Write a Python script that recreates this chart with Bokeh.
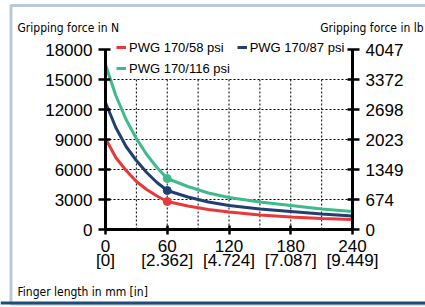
from bokeh.plotting import figure
from bokeh.models import (LinearAxis, FixedTicker, Legend, LegendItem, Label,
                          BoxAnnotation, Span)
from bokeh.embed import file_html
from bokeh.resources import INLINE

# ---- data ----
finger_mm = [0, 10, 20, 30, 40, 50, 60, 80, 100, 120, 150, 180, 210, 240]
force_58 = [9100, 7200, 5900, 4800, 4000, 3350, 2800, 2350, 2000, 1750, 1450, 1250, 1100, 1000]
force_87 = [12700, 10200, 8300, 6900, 5700, 4700, 3900, 3250, 2750, 2400, 2050, 1800, 1550, 1350]
force_116 = [16500, 13400, 11000, 9100, 7500, 6200, 5100, 4300, 3650, 3200, 2750, 2400, 2050, 1800]
marker_mm = [60]
marker_58 = [2800]
marker_87 = [3900]
marker_116 = [5100]

x_ticks = [0, 60, 120, 180, 240]
x_labels_mm = ["0", "60", "120", "180", "240"]
x_labels_in = ["[0]", "[2.362]", "[4.724]", "[7.087]", "[9.449]"]
y_ticks = [0, 3000, 6000, 9000, 12000, 15000, 18000]
y_labels_lb = ["0", "674", "1349", "2023", "2698", "3372", "4047"]
grid_x = [30, 60, 90, 120, 150, 180, 210]
grid_y = [3000, 6000, 9000, 12000, 15000]
grid_top = 15000

series_names = ["PWG 170/58 psi", "PWG 170/87 psi", "PWG 170/116 psi"]
RED = "#e8383a"
NAVY = "#223f72"
GREEN = "#3fba8b"
FRAME = "#1f4d7a"

FONT = "Liberation Sans"
NARROW = "DejaVu Sans Condensed, Liberation Sans"

# the frame spans the whole canvas; axes are pinned with fixed_location
p = figure(width=425, height=307, x_range=(-102.0, 310.9), y_range=(-7800, 22900),
           output_backend="svg", toolbar_location=None,
           min_border=0, min_border_left=0, min_border_right=0,
           min_border_top=0, min_border_bottom=0)
p.title.visible = False
p.outline_line_color = None
p.background_fill_color = "white"
p.border_fill_color = "white"
p.xgrid.visible = False
p.ygrid.visible = False

# grid (dotted), drawn from the tick lists
p.segment(x0=grid_x, y0=[0] * len(grid_x), x1=grid_x, y1=[grid_top] * len(grid_x),
          line_color="black", line_width=1, line_dash="2 2")
p.segment(x0=[0] * len(grid_y), y0=grid_y, x1=[240] * len(grid_y), y1=grid_y,
          line_color="black", line_width=1, line_dash="2 2")

r58 = p.line(finger_mm, force_58, line_color=RED, line_width=3)
r87 = p.line(finger_mm, force_87, line_color=NAVY, line_width=3)
r116 = p.line(finger_mm, force_116, line_color=GREEN, line_width=3)
p.scatter(marker_mm, marker_58, size=8, color=RED)
p.scatter(marker_mm, marker_87, size=8, color=NAVY)
p.scatter(marker_mm, marker_116, size=8, color=GREEN)

def style_axis(ax, tick_in=5, tick_out=6, standoff=6):
    ax.axis_line_color = "black"
    ax.axis_line_width = 3
    ax.major_tick_line_color = "black"
    ax.major_tick_line_width = 2.5
    ax.major_tick_in = tick_in
    ax.major_tick_out = tick_out
    ax.minor_tick_line_color = None
    ax.major_label_text_font = FONT
    ax.major_label_text_font_size = "17px"
    ax.major_label_text_color = "black"
    ax.major_label_standoff = standoff

# left axis
yl = p.yaxis[0]
yl.ticker = FixedTicker(ticks=y_ticks)
yl.fixed_location = 0
yl.bounds = (0, 18000)
style_axis(yl, 5, 7, 6)

# right axis
yr = LinearAxis(ticker=FixedTicker(ticks=y_ticks), fixed_location=240, bounds=(0, 18000),
                major_label_overrides={t: l for t, l in zip(y_ticks, y_labels_lb)})
style_axis(yr, 5, 7, 6)
p.add_layout(yr, "right")

# bottom axes (mm and inch rows)
xb = p.xaxis[0]
xb.ticker = FixedTicker(ticks=x_ticks)
xb.fixed_location = 0
xb.bounds = (0, 240)
xb.major_label_overrides = {t: l for t, l in zip(x_ticks, x_labels_mm)}
style_axis(xb, 4, 5, 5)

xb2 = LinearAxis(ticker=FixedTicker(ticks=x_ticks), fixed_location=0, bounds=(0, 240),
                 major_label_overrides={t: l for t, l in zip(x_ticks, x_labels_in)})
style_axis(xb2, 0, 0, 21)
xb2.axis_line_color = None
xb2.major_tick_line_color = None
p.add_layout(xb2, "below")

# legends
def make_legend(items, loc):
    return Legend(items=items, location=loc, orientation="horizontal",
                  padding=0, margin=0, spacing=13, glyph_width=10, glyph_height=20,
                  label_height=20, label_standoff=3, background_fill_alpha=0,
                  border_line_color=None, label_text_font=FONT,
                  label_text_font_size="13px", label_text_color="black")

lg1 = make_legend([LegendItem(label=series_names[0], renderers=[r58]),
                   LegendItem(label=series_names[1], renderers=[r87])], (116, 250))
lg2 = make_legend([LegendItem(label=series_names[2], renderers=[r116])], (116, 229))
p.add_layout(lg1)
p.add_layout(lg2)

# texts
for txt, xx, yy, align in [("Gripping force in N", -85.5, 20200, "left"),
                           ("Gripping force in lb", 309, 20200, "right"),
                           ("Finger length in mm [in]", -85.5, -6250, "left")]:
    p.add_layout(Label(x=xx, y=yy, text=txt, text_font=NARROW, text_font_size="12px",
                       text_align=align, text_baseline="alphabetic", text_color="black"))

# frame border
p.add_layout(BoxAnnotation(left=-91.8, right=330, bottom=-7450, top=22400,
                           fill_alpha=0, line_color=FRAME, line_width=3))
p.add_layout(Span(location=-7350, dimension="width", line_color=FRAME, line_width=3))

open("out.html", "w").write(file_html(p, INLINE))
